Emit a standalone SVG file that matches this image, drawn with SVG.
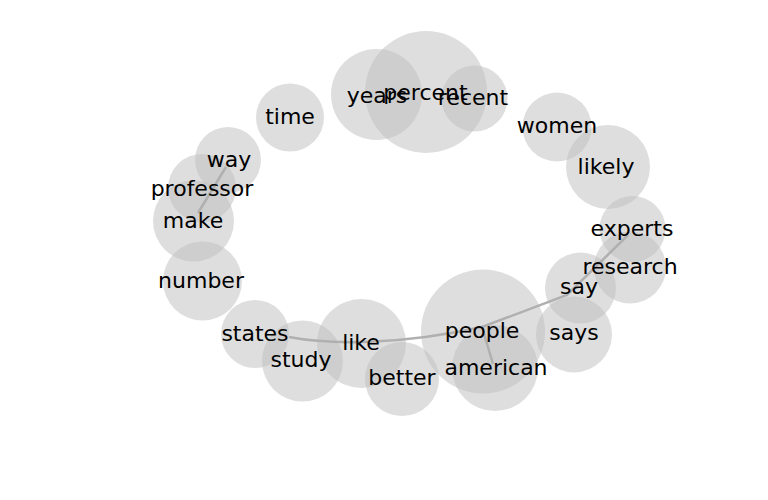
<svg xmlns="http://www.w3.org/2000/svg" width="768" height="500" viewBox="0 0 768 500">
<style>
.n circle{fill:#bdbdbd;fill-opacity:0.5}
.n text{font-family:"DejaVu Sans",sans-serif;font-size:22px;fill:#000;text-anchor:middle}
.e{fill:none;stroke:#b0b0b0;stroke-width:2.5}
</style>
<rect width="768" height="500" fill="#fff"/>
<g id="nodes-circles">
<g id="percent" class="n"><circle cx="426" cy="92" r="61"/></g>
<g id="years" class="n"><circle cx="376.5" cy="94.5" r="45.5"/></g>
<g id="recent" class="n"><circle cx="474.5" cy="98.5" r="33"/></g>
<g id="time" class="n"><circle cx="290" cy="117.5" r="34"/></g>
<g id="way" class="n"><circle cx="228" cy="160" r="33"/></g>
<g id="professor" class="n"><circle cx="202" cy="188" r="34"/></g>
<g id="make" class="n"><circle cx="193.5" cy="221" r="40.5"/></g>
<g id="number" class="n"><circle cx="202.5" cy="281" r="39.5"/></g>
<g id="states" class="n"><circle cx="255" cy="334" r="34"/></g>
<g id="study" class="n"><circle cx="302.5" cy="361" r="40.5"/></g>
<g id="like" class="n"><circle cx="361.5" cy="343.5" r="44.5"/></g>
<g id="better" class="n"><circle cx="402" cy="379" r="37"/></g>
<g id="people" class="n"><circle cx="483" cy="331.5" r="62"/></g>
<g id="american" class="n"><circle cx="495" cy="368" r="43"/></g>
<g id="says" class="n"><circle cx="574" cy="334.5" r="38"/></g>
<g id="say" class="n"><circle cx="580.5" cy="288" r="35.5"/></g>
<g id="research" class="n"><circle cx="630" cy="267.5" r="36"/></g>
<g id="experts" class="n"><circle cx="632.5" cy="229" r="33"/></g>
<g id="likely" class="n"><circle cx="608" cy="167" r="42"/></g>
<g id="women" class="n"><circle cx="557" cy="127" r="34.5"/></g>
</g>
<g id="connectors">
<path class="e" d="M226,167 L198,213"/>
<path class="e" d="M289,337 C330,345 400,345 482,327"/>
<path class="e" d="M482,327 L493,364"/>
<path class="e" d="M482,327 L567,295 L628,235"/>
</g>
<g id="labels" class="n">
<text x="377" y="103">years</text>
<text x="425.5" y="100">percent</text>
<text x="473" y="105">recent</text>
<text x="290" y="124">time</text>
<text x="229" y="167">way</text>
<text x="202" y="196">professor</text>
<text x="193" y="228">make</text>
<text x="201" y="288">number</text>
<text x="255" y="341">states</text>
<text x="301" y="367">study</text>
<text x="361" y="350">like</text>
<text x="402" y="385">better</text>
<text x="482" y="338">people</text>
<text x="496" y="375">american</text>
<text x="574" y="340">says</text>
<text x="579" y="294">say</text>
<text x="630" y="274">research</text>
<text x="632" y="236">experts</text>
<text x="606" y="174">likely</text>
<text x="557" y="133">women</text>
</g>
</svg>
